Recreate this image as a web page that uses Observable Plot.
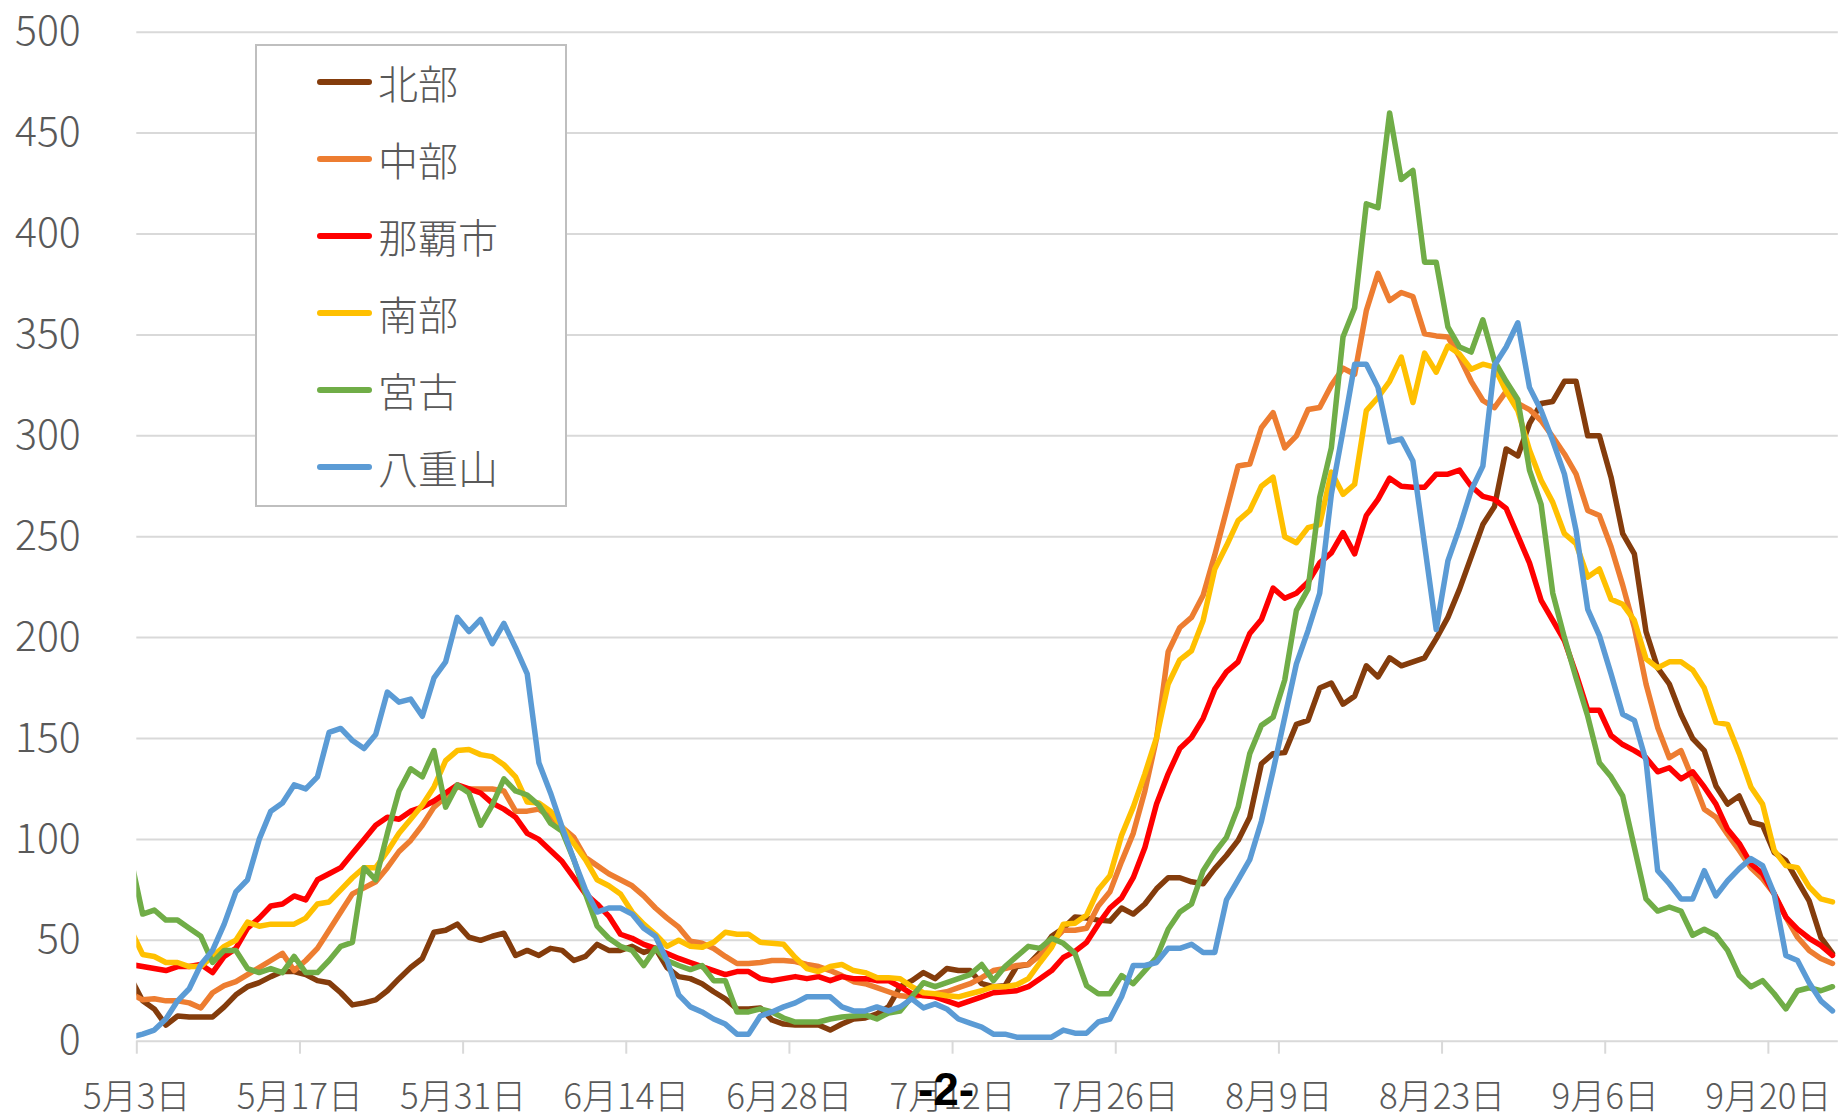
<!DOCTYPE html>
<html><head><meta charset="utf-8">
<script src="https://cdn.jsdelivr.net/npm/d3@7"></script>
<script src="https://cdn.jsdelivr.net/npm/@observablehq/plot@0.6"></script>
<style>
body{margin:0;background:#fff;}
#wrap{position:relative;width:1843px;height:1115px;font-family:"Noto Sans CJK JP","Noto Sans",sans-serif;}
#legend{position:absolute;left:255px;top:44px;width:312px;height:463px;border:2px solid #bfbfbf;background:#fff;box-sizing:border-box;}
.item{position:absolute;left:60px;height:44px;display:flex;align-items:center;}
.sw{width:55px;height:5.5px;border-radius:3px;margin-right:6px;}
.lab{font-size:40px;color:#595959;line-height:44px;white-space:nowrap;font-weight:300;}
#page{position:absolute;left:946px;top:1066px;transform:translateX(-50%);font-weight:bold;font-size:46px;line-height:46px;color:#000;font-family:"Liberation Sans","Noto Sans",sans-serif;}
svg text{font-weight:300;}
</style>
</head><body>
<div id="wrap"><div id="chart"></div><div id="legend"></div><div id="page">-2-</div></div>
<script>
// Daily values from 5/2 (clipped at the left edge) through 9/25
const startDay = "2021-05-02";
const seriesNames = ["北部", "中部", "那覇市", "南部", "宮古", "八重山"];
const seriesColors = ["#843C0C", "#ED7D31", "#FF0000", "#FFC000", "#70AD47", "#5B9BD5"];

const hokubu = [31,
 20,16,8,12.5,12,12,12,17,23,27,
 29,32,34.5,34.5,33,30,29,24,18,19,
 20.5,25,31,36.5,41,54,55,58,51.5,50,
 52,53.5,42.5,45,42.5,46,45,40,42,48,
 45,45,47,44,46,36.5,32,31,28.5,24.5,
 21,16,16,16.5,10.5,8.5,8,8,8,5.5,
 8.5,11,11.5,13.5,17,27,30,34,31,36,
 35,35,28.5,27,27.5,37,38,44,52,56,
 61.5,61,60,59.5,66,63,68,75.5,81,81,
 79,78,85.5,92,99.5,111,137.5,142.5,143,157,
 159,175,177.5,167,171,186,180.5,190,186,188,
 190,199.5,210,224,240,256,265,293.5,290,306,
 316,317,327,327,300,300,279.5,251.5,241.5,203,
 185,177,162,150,144,126.5,117.5,121.5,108.5,107,
 93.5,89.5,79.5,69.5,51.5,43.5];

const chubu = [23.5,
 20.5,21,20,20,19,16.5,24,27.5,29.5,33,
 36.5,40,43.5,35,40,46,55,64,73,76,
 79,86,94,99.5,107,116,121,126,125,125,
 125,124,114,114,115,111,106,101,91,87,
 83,80,77,72,66,61,56.5,49.5,48.5,46,
 42,38.5,38.5,39,40,40,39.5,38,37,35,
 32.5,29.5,28.5,26.5,24.5,22.5,22,23,23.5,24.5,
 26.5,28.5,31.5,35,36,37.5,38,42.5,49,55,
 55,56,67,74,89,103,124,150,193,205,
 210,221,241,263,285,286,304,311.5,294,300,
 313,314,325,333.5,330.5,362,380.5,367,371,369,
 350.5,349.5,349,339,327,317.5,314,322,316,313,
 307.5,299.5,291,281,263,260.5,245,226,205,177,
 155.5,140.5,144,130,115,111,102.5,94.5,86,80.5,
 73,61.5,51.5,45,41,38.5];

const naha = [38,
 37,36,35,37,37,38,34,42,46,56,
 61,67,68,72,70,80,83,86,93,100,
 107,111,110,114,116,119,123,127,125,123,
 118,115,111,103,100,94.5,89,81,73,68,
 62,53,51,48,46,43.5,41,39,37,35,
 33,34.5,34.5,31,30,31,32,31,32,30,
 32,31,31,30,30,27,23.5,22.5,22,20,
 18,20,22,24,24.5,25,27,31,35,41.5,
 44.5,49,58,66,71,81,96,117.5,132.5,145,
 150.5,160,174.5,183,188,202,209,224.5,219.5,222,
 227.5,237,242,252,241.5,260.5,268.5,279,275,274.5,
 274.5,281,281,283,275,270,268.5,264,250.5,237,
 218.5,208.5,198.5,182,164,164,151.5,147,144,140.5,
 133.5,135.5,130,133.5,126,117.5,105,98,88,83,
 73,61.5,55.5,51,47.5,42.5];

const nanbu = [55,
 43,42,39,39,37,37,42,47,50,59,
 57,58,58,58,61,68,69,75,81,86,
 86,94,103,110,117,126,139,144,144.5,142,
 141,137,131,118.5,118,114,106,98,90,80,
 77,73,64,58,53,47,50,47,46.5,49,
 54,53,53,49,48.5,48,41.5,36,34.5,37,
 38,35,34,31.5,31.5,31,27,24,23.5,22.5,
 22,23.5,25,27,27,28,31,39,46.5,58,
 58.5,62.5,75,82,102,116,132.5,150.5,177,189,
 193.5,208.5,234,245.5,258,263,275,279.5,250,247,
 254.5,256,282,271,276,312.5,319,327,339,316.5,
 341,331.5,344.5,340.5,333,335.5,334,322,312.5,293,
 278,267,251.5,246.5,230,234,219,216.5,208.5,189.5,
 185,188,188,184,175,158,157,142.5,126,117.5,
 94.5,87,86,76.5,70.5,69];

const miyako = [90,
 63,65,60,60,56,52,39,45,45,36,
 34,36,34,42,34,34,40,47,49,86,
 80,103,124,135,131,144,116,127,123,107,
 117,130,124,122,117,108,104,90,73,57,
 51,47,45,37.5,46,40,37.5,35.5,37.5,30,
 30,14.5,14.5,16,14.5,11.5,9.5,9.5,9.5,11,
 12,12.5,13,11,14,15,22,29,27,29,
 31,33,38,30,37,42,47,46,51,48.5,
 43.5,27.5,23.5,23.5,32.5,28.5,35,41.5,55.5,64,
 68,84.5,93.5,101,116,142.5,156.5,160.5,179,213.5,
 224,269.5,294,349,363.5,415,413,460,427,431.5,
 386,386,354,344,341.5,357.5,337,327,318,283,
 266,222,200,180,161,138,131,121.5,96,70.5,
 64.5,66.5,64.5,52.5,55.5,52.5,45,32.5,27,30,
 23.5,16,25,26.5,25,27];

const yaeyama = [2,
 3.5,5.5,11,20,26,38,45,58,74,80,
 100,114,118,127,125,131,153,155,149,145,
 152,173,168,169.5,161,180,188,210,203,209,
 197,207,195,182,138,123,106,90,75,64,
 66,66,63,56,52,40,23,17,14.5,11,
 8.5,3.5,3.5,12.5,14.5,17,19,22,22,22,
 17,15,15,17,15,17,21,16.5,18.5,16,
 11,9,7,3.5,3.5,2,2,2,2,5.5,
 4,4,9.5,11,22,37.5,37.5,39,46,46,
 48,44,44,70,80,90,109,134,160.5,187,
 203.5,222,271,302.5,335.5,335.5,324,297,298.5,287.5,
 246,204,238,254.5,273,285,335,344,356,324,
 312.5,297.5,281,253,214,201,182,162,159,139,
 84.5,78,70.5,70.5,84.5,72,79.5,85.5,90.5,87,
 73,42.5,40,29,20,15];

const yTicks = [0,50,100,150,200,250,300,350,400,450,500];
const xTickLabels = ["5月3日","5月17日","5月31日","6月14日","6月28日","7月12日","7月26日","8月9日","8月23日","9月6日","9月20日"];

// ---------- build ----------
const allSeries = [hokubu, chubu, naha, nanbu, miyako, yaeyama];
const DAY = 864e5;
const t0 = Date.parse(startDay + "T00:00:00Z");
const tables = allSeries.map(vals => vals.map((v, i) => ({date: new Date(t0 + i * DAY + DAY / 2), v})));
const xStart = new Date(t0 + DAY);            // 5/3
const xEnd = new Date(t0 + DAY * 147);        // 9/26
const xTicks = xTickLabels.map((_, k) => new Date(t0 + DAY * (1 + 14 * k)));
const fmt = d => xTickLabels[xTicks.findIndex(t => +t === +d)];

const chart = Plot.plot({
  width: 1843, height: 1115,
  marginLeft: 136.3, marginRight: 5.2, marginTop: 31.7, marginBottom: 74.3,
  style: {fontFamily: '"Noto Sans CJK JP", "Noto Sans", sans-serif', color: "#595959", background: "transparent", overflow: "visible"},
  x: {type: "utc", domain: [xStart, xEnd]},
  y: {domain: [0, 500]},
  marks: [
    Plot.gridY(yTicks, {stroke: "#d9d9d9", strokeOpacity: 1, strokeWidth: 2}),
    Plot.axisY(yTicks, {tickSize: 0, tickPadding: 56, fontSize: 41, label: null}),
    Plot.axisX(xTicks, {tickSize: 13, stroke: "#d9d9d9", strokeWidth: 2, strokeOpacity: 1, tickFormat: () => "", label: null}),
    Plot.axisX(xTicks, {tickSize: 0, tickPadding: 43, fontSize: 35, tickFormat: fmt, label: null}),
    ...tables.map((rows, k) => Plot.line(rows, {x: "date", y: "v", stroke: seriesColors[k], strokeWidth: 5.5, strokeLinejoin: "round", strokeLinecap: "round", clip: true}))
  ]
});
document.getElementById("chart").appendChild(chart);

const legend = document.getElementById("legend");
seriesNames.forEach((name, k) => {
  const it = document.createElement("div");
  it.className = "item";
  it.style.top = (14 + 77 * k) + "px";
  it.innerHTML = `<div class="sw" style="background:${seriesColors[k]}"></div><div class="lab">${name}</div>`;
  legend.appendChild(it);
});
</script>
</body></html>
